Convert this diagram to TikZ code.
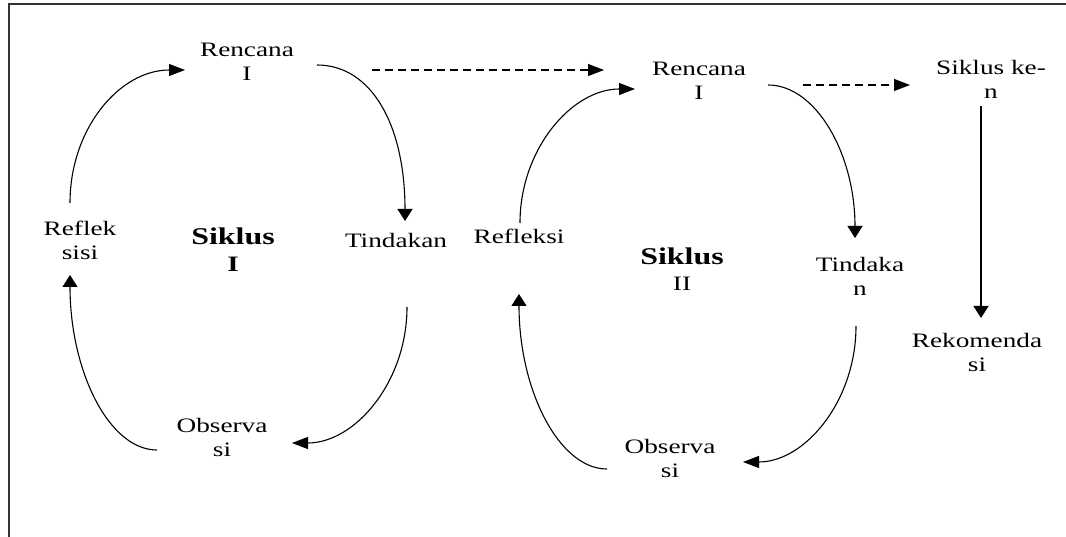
\documentclass[tikz,border=0pt]{standalone}
\usepackage{fontspec}
\setmainfont{Liberation Serif}[FakeStretch=1.33]
\usetikzlibrary{arrows.meta}
\begin{document}
\begin{tikzpicture}[x=1pt,y=-1pt,
  lbl/.style={font=\fontsize{20.5}{24}\selectfont, align=center, inner sep=0pt},
  conn/.style={line width=1.1pt, draw=black},
  harr/.style={conn, -{Triangle[length=16pt,width=12pt]}},
  varr/.style={conn, -{Triangle[length=12pt,width=15pt]}},
  dsh/.style={harr, dash pattern=on 8pt off 5pt}]
\useasboundingbox (0,0) rectangle (1066,537);
\draw[line width=1.4pt, black!80] (1066,4) -- (9,4) -- (9,537);

\node[lbl] (ren1) at (247,61.5) {Rencana\\I};
\node[lbl] (tin1) at (396,240) {Tindakan};
\node[lbl] (ref1) at (80,240) {Reflek\\sisi};
\node[lbl] (obs1) at (222,437.5) {Observa\\si};
\node[lbl, font=\fontsize{20.5}{27}\selectfont] (sik1) at (233,250) {{\fontsize{24}{27}\selectfont\bfseries Siklus}\\{\fontsize{22}{27}\selectfont\bfseries I}};
\node[lbl] (ren2) at (699,80.5) {Rencana\\I};
\node[lbl] (ref2) at (519,236) {Refleksi};
\node[lbl] (tin2) at (860,276.5) {Tindaka\\n};
\node[lbl] (obs2) at (670,458) {Observa\\si};
\node[lbl, font=\fontsize{20.5}{26}\selectfont] (sik2) at (682,269.5) {{\fontsize{24}{26}\selectfont\bfseries Siklus}\\II};
\node[lbl] (sikn) at (991,79.5) {Siklus ke-\\n};
\node[lbl] (rek) at (977,352) {Rekomenda\\si};

\draw[harr] ([shift={(-10,-37)}]ref1.center) .. controls +(0,-75) and +(-65,0) .. ([shift={(-62,8.5)}]ren1.center);
\draw[varr] ([shift={(70,3.5)}]ren1.center) .. controls +(55,0) and +(0,-95) .. ([shift={(9,-19)}]tin1.center);
\draw[harr] ([shift={(11,67)}]tin1.center) .. controls +(0,75) and +(63,0) .. ([shift={(70,5.5)}]obs1.center);
\draw[varr] ([shift={(-65,12.5)}]obs1.center) .. controls +(-48,0) and +(0,96) .. ([shift={(-10,35)}]ref1.center);
\draw[dsh] ([shift={(125,8.5)}]ren1.center) -- ([shift={(-95,-10.5)}]ren2.center);

\draw[harr] ([shift={(1,-13)}]ref2.center) .. controls +(0,-74) and +(-63,0) .. ([shift={(-64,8.5)}]ren2.center);
\draw[varr] ([shift={(69,4.5)}]ren2.center) .. controls +(48,0) and +(0,-84) .. ([shift={(-5,-38.5)}]tin2.center);
\draw[harr] ([shift={(-4,49.5)}]tin2.center) .. controls +(0,75) and +(62,0) .. ([shift={(73,4)}]obs2.center);
\draw[varr] ([shift={(-63,11)}]obs2.center) .. controls +(-48,0) and +(0,96) .. ([shift={(0,58)}]ref2.center);
\draw[dsh] ([shift={(104,4.5)}]ren2.center) -- ([shift={(-81,5.5)}]sikn.center);
\draw[varr] ([shift={(-10,26.5)}]sikn.center) -- ([shift={(4,-34)}]rek.center);
\end{tikzpicture}
\end{document}
